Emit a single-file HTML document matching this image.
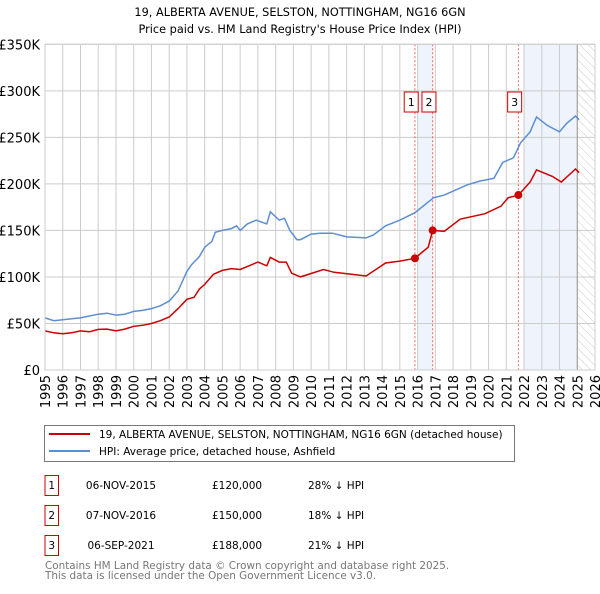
<!DOCTYPE html>
<html><head><meta charset="utf-8"><style>
body{margin:0;background:#fff;font-family:"DejaVu Sans","Liberation Sans",sans-serif;}
svg text{font-family:"DejaVu Sans","Liberation Sans",sans-serif;}
</style></head><body>
<svg id="c" width="600" height="590" xmlns="http://www.w3.org/2000/svg">
<defs><pattern id="hatch" width="6" height="6" patternUnits="userSpaceOnUse" patternTransform="rotate(-45)"><line x1="0" y1="0" x2="0" y2="6" stroke="#ccc" stroke-width="1"/></pattern></defs>
<text x="300" y="16" text-anchor="middle" font-size="11.3">19, ALBERTA AVENUE, SELSTON, NOTTINGHAM, NG16 6GN</text>
<text x="300" y="33" text-anchor="middle" font-size="11.3">Price paid vs. HM Land Registry's House Price Index (HPI)</text>
<g id="plot"></g>
<rect x="44.5" y="425.5" width="470" height="36" fill="#fff" stroke="#777"/>
<line x1="49" y1="434" x2="90" y2="434" stroke="#cc0000" stroke-width="2"/>
<text x="99" y="438" font-size="10.5">19, ALBERTA AVENUE, SELSTON, NOTTINGHAM, NG16 6GN (detached house)</text>
<line x1="49" y1="451" x2="90" y2="451" stroke="#5b8fd4" stroke-width="2"/>
<text x="99" y="455" font-size="10.5">HPI: Average price, detached house, Ashfield</text>
<g font-size="10.5">
<rect x="45" y="475.5" width="13.5" height="20" fill="none" stroke="#c00"/><text x="51.7" y="489" text-anchor="middle">1</text>
<text x="121" y="489" text-anchor="middle">06-NOV-2015</text><text x="212" y="489">£120,000</text><text x="308" y="489">28% ↓ HPI</text>
<rect x="45" y="505.5" width="13.5" height="20" fill="none" stroke="#c00"/><text x="51.7" y="519" text-anchor="middle">2</text>
<text x="121" y="519" text-anchor="middle">07-NOV-2016</text><text x="212" y="519">£150,000</text><text x="308" y="519">18% ↓ HPI</text>
<rect x="45" y="535.5" width="13.5" height="20" fill="none" stroke="#c00"/><text x="51.7" y="549" text-anchor="middle">3</text>
<text x="121" y="549" text-anchor="middle">06-SEP-2021</text><text x="212" y="549">£188,000</text><text x="308" y="549">21% ↓ HPI</text>
</g>
<text x="45" y="569" font-size="10.4" fill="#777">Contains HM Land Registry data © Crown copyright and database right 2025.</text>
<text x="45" y="579" font-size="10.4" fill="#777">This data is licensed under the Open Government Licence v3.0.</text>
</svg>
<script>
const hpiYears=[1995,1995.5,1996,1996.5,1997,1997.5,1998,1998.5,1999,1999.5,2000,2000.5,2001,2001.5,2002,2002.5,2003,2003.25,2003.7,2004,2004.4,2004.6,2005,2005.5,2005.8,2006,2006.4,2006.9,2007.5,2007.7,2008.2,2008.5,2008.8,2009.2,2009.4,2010,2010.5,2011.2,2012,2013.1,2013.5,2014.2,2015,2015.85,2016.9,2017.5,2018.8,2019.5,2020.3,2020.8,2021.4,2021.8,2022.35,2022.7,2023.3,2024,2024.4,2024.9,2025.1];
const hpiValues=[56,53,54,55,56,58,60,61,59,60,63,64,66,69,74,85,106,113,122,132,138,148,150,152,155,150,157,161,157,170,161,163,150,140,140,146,147,147,143,142,145,155,161,169,185,188,199,203,206,223,228,244,256,272,263,256,265,273,269];
const priceYears=[1995,1995.5,1996,1996.5,1997,1997.5,1998,1998.5,1999,1999.5,2000,2000.5,2001,2001.5,2002,2002.5,2003,2003.4,2003.7,2004,2004.5,2005,2005.5,2006,2006.5,2007,2007.5,2007.7,2008.2,2008.6,2008.9,2009.4,2010.7,2011.3,2013.1,2014.2,2015,2015.85,2016.6,2016.85,2017.5,2018.4,2019.8,2020.7,2021.1,2021.68,2022.35,2022.7,2023.6,2024.1,2024.9,2025.1];
const priceValues=[42,40,39,40,42,41,43.6,44,42,44,47,48,50,53,57,66,76,78,87,92,103,107,109,108,112,116,112,121,116,116,104,100,108,105,101,115,117,120,132,150,149,162,168,176,185,188,202,215,208,202,216,212];
const saleYears=[2015.85,2016.85,2021.68];
const saleValues=[120,150,188];
const saleLabels=["1","2","3"];
const yTicks=[0,50,100,150,200,250,300,350];
const yTickLabels=["£0","£50K","£100K","£150K","£200K","£250K","£300K","£350K"];
const xTicks=[1995,1996,1997,1998,1999,2000,2001,2002,2003,2004,2005,2006,2007,2008,2009,2010,2011,2012,2013,2014,2015,2016,2017,2018,2019,2020,2021,2022,2023,2024,2025,2026];
const shadeRanges=[[2016,2016.85],[2022,2025]];

const NS="http://www.w3.org/2000/svg";
const L=45,R=595,T=44.3,B=370;
const xs=y=>L+(y-1995)/(2026-1995)*(R-L);
const ys=v=>B-v/350*(B-T);
const g=document.getElementById('plot');
function mk(t,a){const e=document.createElementNS(NS,t);for(const k in a)e.setAttribute(k,a[k]);g.appendChild(e);return e;}
shadeRanges.forEach((r,i)=>{const e=mk('rect',{x:xs(r[0]),y:T,width:xs(r[1])-xs(r[0]),height:B-T,fill:'#eef3fc'});

});
const h=mk('rect',{x:xs(2025),y:T,width:R-xs(2025),height:B-T,fill:'url(#hatch)'});


yTicks.forEach((v,i)=>{const l=mk('line',{x1:L,x2:R,y1:ys(v),y2:ys(v),stroke:'#ccc'});


const t=mk('text',{x:40,y:ys(v)+5,'text-anchor':'end','font-size':13});t.textContent=yTickLabels[i];

});
xTicks.forEach(y=>{const l=mk('line',{x1:xs(y),x2:xs(y),y1:T,y2:B,stroke:'#ccc'});


const t=mk('text',{x:0,y:0,'font-size':13,'text-anchor':'end',transform:`translate(${xs(y)+5},${B+5}) rotate(-90)`});t.textContent=y;

});
const nl=mk('line',{x1:xs(2025),x2:xs(2025),y1:T,y2:B,stroke:'#999'});


saleYears.forEach(y=>{const l=mk('line',{x1:xs(y),x2:xs(y),y1:T,y2:B,stroke:'#f06060','stroke-dasharray':'2,2'});

});
function path(xa,va,c,n){const d=xa.map((x,i)=>(i?'L':'M')+xs(x).toFixed(1)+','+ys(va[i]).toFixed(1)).join('');
const p=mk('path',{d:d,fill:'none',stroke:c,'stroke-width':1.5});

}
path(hpiYears,hpiValues,'#5b8fd4','hpi-line');
path(priceYears,priceValues,'#cc0000','price-line');
saleYears.forEach((y,i)=>{const c=mk('circle',{cx:xs(y),cy:ys(saleValues[i]),r:4,fill:'#cc0000'});


const b=mk('rect',{x:xs(y)-10.7,y:92,width:14,height:20,fill:'#fff',stroke:'#c00'});


const t=mk('text',{x:xs(y)-3.7,y:106,'text-anchor':'middle','font-size':11});t.textContent=saleLabels[i];

});
const ax=mk('rect',{x:L,y:T,width:R-L,height:B-T,fill:'none',stroke:'#ccc'});


</script>
</body></html>
